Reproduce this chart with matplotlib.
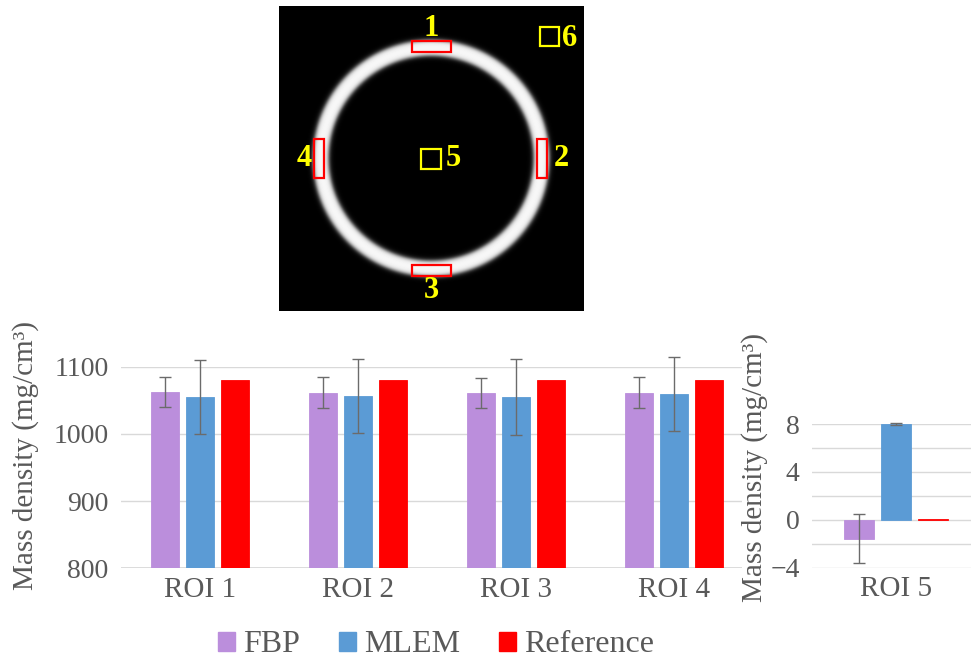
import numpy as np
import matplotlib
matplotlib.use("Agg")
import matplotlib.pyplot as plt
from matplotlib.patches import Rectangle, Patch

plt.rcParams['font.family'] = ['Liberation Serif', 'DejaVu Serif']

W, H = 971, 662

# ---- data ----
rois = ["ROI 1", "ROI 2", "ROI 3", "ROI 4"]
fbp = [1062, 1061, 1061, 1061]
fbp_err = [22, 23, 22, 23]
mlem = [1055, 1057, 1055, 1059]
mlem_err = [55, 55, 56, 55]
reference = [1080, 1080, 1080, 1080]

roi5 = ["ROI 5"]
fbp5 = [-1.6]
fbp5_err = [2.05]
mlem5 = [8.0]
mlem5_err = [0.1]
reference5 = [0.08]

series_names = ["FBP", "MLEM", "Reference"]
colors = ["#BB8EDC", "#5B9BD5", "#FF0000"]
text_col = "#595959"
grid_col = "#D9D9D9"

# ROI boxes on the phantom image (image pixel coords): label, x, y, w, h, color
roi_boxes = [
    ("1", 132.6, 35, 39, 10.7, "red"),
    ("2", 258, 133, 10, 39, "red"),
    ("3", 132.6, 259, 39, 11, "red"),
    ("4", 34.7, 133, 10.3, 39, "red"),
    ("5", 141.7, 143, 20, 19.7, "yellow"),
    ("6", 261, 20.7, 19, 19, "yellow"),
]
roi_label_pos = {"1": (152, 23), "2": (282, 152), "3": (152, 284),
                 "4": (25, 152), "5": (174, 153), "6": (291, 32)}

fig = plt.figure(figsize=(W / 100, H / 100), dpi=100)


def px_axes(left, top, right, bottom):
    return fig.add_axes([left / W, 1 - bottom / H, (right - left) / W, (bottom - top) / H])


#---------------------------------------
# phantom image
#---------------------------------------
n = 305
yy, xx = np.mgrid[0:n, 0:n]
r = np.hypot(xx - 151.7, yy - 151.7)
ring = 0.97 / (1 + np.exp((np.abs(r - 110.3) - 7.8) / 1.3))
axi = px_axes(279, 6, 584, 311)
axi.imshow(ring, cmap="gray", vmin=0, vmax=1, extent=(0, n, n, 0), interpolation="bilinear")
axi.set_xlim(0, n)
axi.set_ylim(n, 0)
axi.axis("off")
for lab, x, y, w, h, c in roi_boxes:
    axi.add_patch(Rectangle((x, y), w, h, fill=False, edgecolor=c, linewidth=1.6))
    tx, ty = roi_label_pos[lab]
    axi.text(tx, ty, lab, color="yellow", fontsize=22, fontweight="bold",
             ha="center", va="center")


#---------------------------------------
# bar chart helper
#---------------------------------------
def bar_group(ax, vals_list, errs_list):
    x = np.arange(len(vals_list[0]))
    offs = [-0.2215, 0, 0.2215]
    for vals, errs, off, c in zip(vals_list, errs_list, offs, colors):
        ax.bar(x + off, vals, width=0.177, color=c, edgecolor=c, linewidth=0.6, zorder=2)
        if errs is not None:
            eb = ax.errorbar(x + off, vals, yerr=errs, fmt="none", ecolor="#6b6b6b",
                             elinewidth=1.0, capsize=4, capthick=1.0, zorder=3)
            for art in eb.lines[1] + eb.lines[2]:
                art.set_clip_on(False)
    for s in ax.spines.values():
        s.set_visible(False)
    ax.tick_params(axis="y", length=0, labelsize=20, colors=text_col)
    ax.tick_params(axis="x", length=0, labelsize=21, colors=text_col)
    ax.set_axisbelow(True)
    return x


# main chart
ax = px_axes(121, 366.7, 742, 568.3)
x = bar_group(ax, [fbp, mlem, reference], [fbp_err, mlem_err, None])
ax.set_ylim(800, 1100)
ax.set_xlim(-0.5, 3.43)
ax.set_yticks([800, 900, 1000, 1100])
ax.yaxis.grid(True, color=grid_col, linewidth=1.0)
ax.axhline(800, color=grid_col, linewidth=2.0, zorder=1)
ax.set_xticks(x)
ax.set_xticklabels(rois)
ax.tick_params(axis="y", pad=9)
ax.tick_params(axis="x", pad=6)
fig.text(26 / W, 1 - 455 / H, "Mass density (mg/cm³)", rotation=90, ha="center",
         va="center", fontsize=21, color=text_col)

# ROI 5 chart
ax5 = px_axes(812, 424, 971, 567.5)
x5 = bar_group(ax5, [fbp5, mlem5, reference5], [fbp5_err, mlem5_err, None])
ax5.set_ylim(-4, 8)
ax5.set_xlim(-0.5, 0.446)
ax5.set_yticks([-4, 0, 4, 8])
ax5.set_yticks([-2, 2, 6], minor=True)
ax5.yaxis.grid(True, which="both", color=grid_col, linewidth=1.0)
ax5.tick_params(which="minor", length=0)
ax5.set_xticks(x5)
ax5.set_xticklabels(roi5)
ax5.tick_params(axis="y", pad=9)
ax5.tick_params(axis="x", pad=6)
fig.text(755 / W, 1 - 468 / H, "Mass density (mg/cm³)", rotation=90, ha="center",
         va="center", fontsize=21, color=text_col)

# legend
handles = [Patch(facecolor=c, edgecolor=c) for c in colors]
leg = fig.legend(handles, series_names, loc="center", bbox_to_anchor=(436 / W, 1 - 645 / H),
                 ncol=3, frameon=False, fontsize=23, handlelength=0.55, handleheight=0.55,
                 handletextpad=0.25, columnspacing=1.2)
for t in leg.get_texts():
    t.set_color(text_col)

fig.savefig("out.png", dpi=100)
